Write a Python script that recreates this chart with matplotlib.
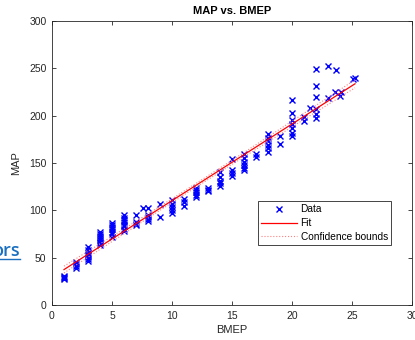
import numpy as np
import matplotlib
matplotlib.use('Agg')
import matplotlib.pyplot as plt
from matplotlib.lines import Line2D

plt.rcParams['font.family'] = ['Liberation Sans', 'DejaVu Sans']

# datos (BMEP, MAP)
bmep = [1, 1, 1, 1,
        2, 2, 2, 2,
        3, 3, 3, 3, 3, 3, 3,
        4, 4, 4, 4, 4, 4, 4, 4,
        5, 5, 5, 5, 5, 5, 5,
        6, 6, 6, 6, 6, 6, 6, 6,
        7, 7, 7, 7, 7.6,
        8, 8, 8, 8, 8,
        9, 9,
        10, 10, 10, 10, 10,
        11, 11, 11,
        12, 12, 12, 12, 12,
        13, 13, 13,
        14, 14, 14, 14, 14,
        15, 15, 15, 15,
        16, 16, 16, 16, 16, 16,
        17, 17,
        18, 18, 18, 18, 18, 18,
        19, 19,
        20, 20, 20, 20, 20, 20, 20,
        21, 21, 21.5,
        22, 22, 22, 22, 22, 22,
        23, 23, 23.6, 23.7,
        24, 24.1, 25.1, 25.25]
map_vals = [28, 29, 30, 31,
            39, 41, 43, 45,
            47, 49, 51, 53, 55, 58, 61,
            63, 65, 67, 69, 71, 73, 75, 77,
            72, 75, 77, 80, 82, 85, 87,
            78, 80, 83, 85, 88, 90, 92, 95,
            84, 86, 88, 95, 102,
            89, 91, 93, 95, 102,
            93, 107,
            97, 100, 104, 107, 111,
            105, 109, 112,
            114, 116, 119, 121, 124,
            120, 122, 124,
            126, 129, 131, 135, 140,
            136, 139, 143, 154,
            143, 145, 148, 151, 155, 159,
            156, 159,
            162, 166, 169, 173, 176, 181,
            170, 179,
            179, 182, 187, 191, 195, 203, 217,
            194, 199, 208,
            198, 202, 207, 220, 231, 249,
            219, 252, 225, 248,
            221, 225, 239, 240]

x_ticks = [0, 5, 10, 15, 20, 25, 30]
y_ticks = [0, 50, 100, 150, 200, 250, 300]

x = np.array(bmep, dtype=float)
y = np.array(map_vals, dtype=float)

# ajuste lineal y bandas de confianza (95%)
p = np.polyfit(x, y, 1)
xf = np.linspace(x.min(), x.max(), 100)
yf = np.polyval(p, xf)
n = len(x)
resid = y - np.polyval(p, x)
s = np.sqrt(np.sum(resid**2) / (n - 2))
sxx = np.sum((x - x.mean())**2)
delta = 1.98 * s * np.sqrt(1.0/n + (xf - x.mean())**2 / sxx)

fig = plt.figure(figsize=(4.15, 3.4), dpi=100)
ax = fig.add_axes([0.1253, 0.1029, 0.8675, 0.8353])

ax.plot(x, y, 'x', color='blue', markersize=5, markeredgewidth=1.0, label='Data')
ax.plot(xf, yf, '-', color='red', linewidth=0.9, label='Fit')
ax.plot(xf, yf + delta, ':', color='#ff8080', linewidth=0.8, label='Confidence bounds')
ax.plot(xf, yf - delta, ':', color='#ff8080', linewidth=0.8)

ax.set_xlim(0, 30)
ax.set_ylim(0, 300)
ax.set_xticks(x_ticks)
ax.set_yticks(y_ticks)
ax.tick_params(direction='in', top=True, right=True, length=3, width=0.6,
               labelsize=7.5, colors='#262626', pad=4)
for sp in ax.spines.values():
    sp.set_linewidth(0.6)
    sp.set_color('#262626')

ax.set_title('MAP vs. BMEP', fontsize=8, fontweight='bold', pad=5)
ax.set_xlabel('BMEP', fontsize=8, color='#262626', labelpad=3)
ax.set_ylabel('MAP', fontsize=8, color='#262626', labelpad=6)

leg = ax.legend(loc='lower left', bbox_to_anchor=(0.572, 0.211), fontsize=7.3,
                fancybox=False, framealpha=1, edgecolor='#262626',
                borderpad=0.3, labelspacing=0.38, handlelength=3.6,
                handletextpad=0.3, borderaxespad=0)
leg.get_frame().set_linewidth(0.6)

# resto de texto de la pagina (enlace recortado)
fig.text(0.048, 0.248, 'ors', color='#1a6fc0', fontsize=13, fontweight='semibold',
         ha='right', va='baseline', family=['Open Sans', 'DejaVu Sans'])
fig.add_artist(Line2D([0.0, 0.048], [0.238, 0.238], color='#1a6fc0', linewidth=1.0))

fig.savefig('out.png', dpi=100)
